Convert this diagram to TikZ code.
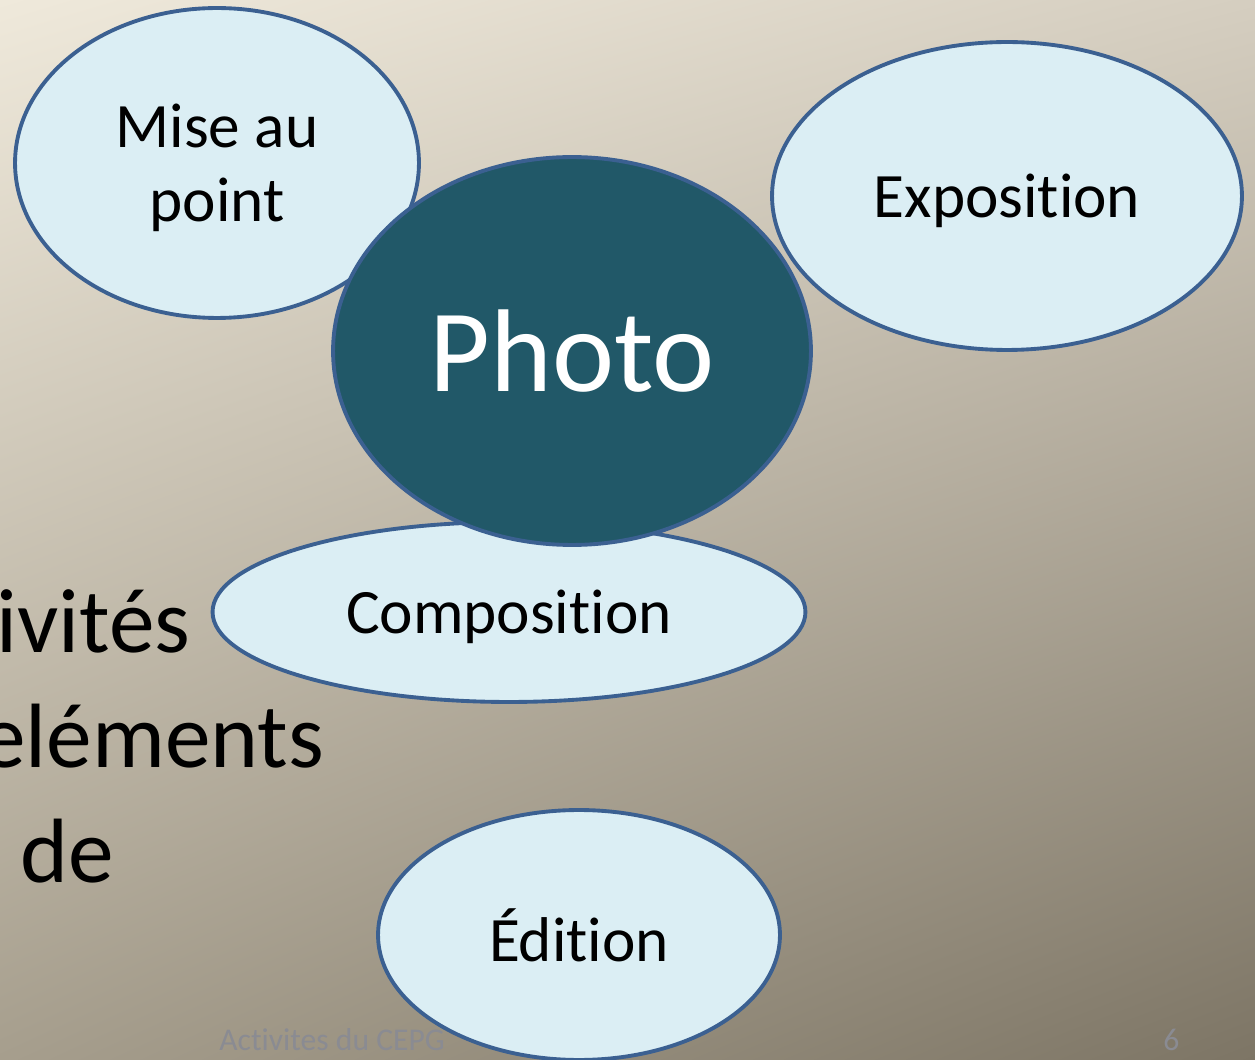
\documentclass[tikz,border=0pt]{standalone}
\usepackage{fontspec}
\setmainfont[Ligatures=NoCommon]{Carlito}
\usetikzlibrary{shapes.geometric,shadings}

\definecolor{bubblefill}{RGB}{219,238,244}
\definecolor{bubbleline}{RGB}{59,96,145}
\definecolor{photofill}{RGB}{33,88,104}
\definecolor{footgray}{RGB}{138,139,146}
\definecolor{bgul}{RGB}{239,233,219}
\definecolor{bgur}{RGB}{213,206,192}
\definecolor{bgll}{RGB}{166,158,141}
\definecolor{bglr}{RGB}{125,117,101}

\tikzset{
  bubble/.style={ellipse, draw=bubbleline, line width=2.2pt, fill=bubblefill,
    inner sep=0pt, align=center, text depth=0pt, font=\fontsize{36}{42}\selectfont},
  centerbubble/.style={bubble, fill=photofill, text=white,
    font=\fontsize{67}{70}\selectfont},
  bodytext/.style={anchor=base west, inner sep=0pt, font=\fontsize{52}{60}\selectfont},
  foottext/.style={anchor=base west, inner sep=0pt, text=footgray,
    font=\fontsize{18}{20}\selectfont}
}

\begin{document}
\begin{tikzpicture}[x=0.02cm, y=-0.02cm]
%slide background
\useasboundingbox (0,0) rectangle (1255,1060);
\clip (0,0) rectangle (1255,1060);
\shade[upper left=bgul, upper right=bgur, lower left=bgll, lower right=bglr]
  (0,0) rectangle (1255,1060);

%body text (cut at the left)
\node[bodytext] (line1) at (-4,653) {ivités};
\node[bodytext] (line2) at (-20,767) {eléments};
\node[bodytext] (line3) at (20,882) {de};

%footer
\node[foottext] (footer) at (219,1050) {Activites du CEPG};
\node[foottext] (pagenum) at (1163,1050) {6};

%ellipses
\node[bubble, minimum width=8.08cm, minimum height=6.2cm] (mise) at (217,163) {Mise au\\point};
\node[bubble, minimum width=9.4cm, minimum height=6.16cm] (expo) at (1007,196) {Exposition};
\node[bubble, minimum width=11.86cm, minimum height=3.6cm] (compo) at (509,612) {Composition};
\node[bubble, minimum width=8.04cm, minimum height=5cm] (edition) at (579,935) {Édition};

%center ellipse
\node[centerbubble, minimum width=9.56cm, minimum height=7.76cm] (photo) at (572,351) {Photo};

\end{tikzpicture}
\end{document}
